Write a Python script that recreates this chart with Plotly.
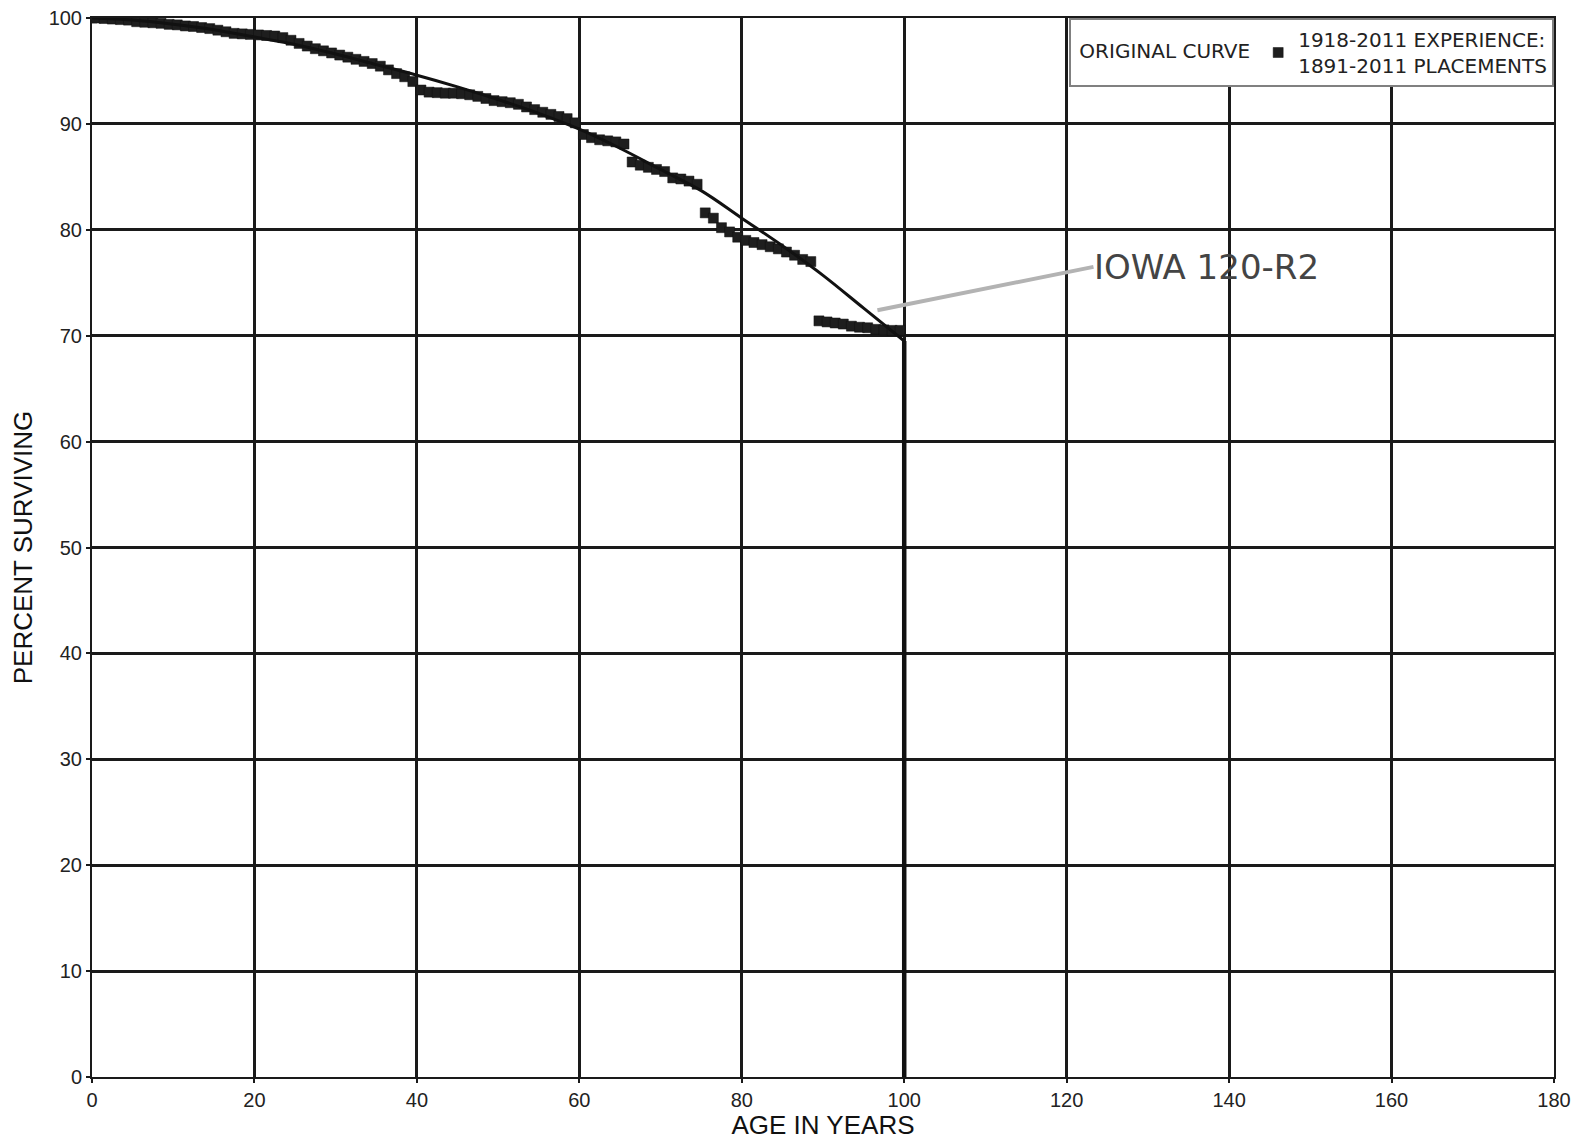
import plotly.graph_objects as go

# Observed experience (1918-2011 experience, 1891-2011 placements)
obs_age = [0, 0.5, 1.5, 2.5, 3.5, 4.5, 5.5, 6.5, 7.5, 8.5, 9.5, 10.5, 11.5, 12.5, 13.5, 14.5,
           15.5, 16.5, 17.5, 18.5, 19.5, 20.5, 21.5, 22.5, 23.5, 24.5, 25.5, 26.5, 27.5, 28.5,
           29.5, 30.5, 31.5, 32.5, 33.5, 34.5, 35.5, 36.5, 37.5, 38.5, 39.5, 40.5, 41.5, 42.5,
           43.5, 44.5, 45.5, 46.5, 47.5, 48.5, 49.5, 50.5, 51.5, 52.5, 53.5, 54.5, 55.5, 56.5,
           57.5, 58.5, 59.5, 60.5, 61.5, 62.5, 63.5, 64.5, 65.5, 66.5, 67.5, 68.5, 69.5, 70.5,
           71.5, 72.5, 73.5, 74.5, 75.5, 76.5, 77.5, 78.5, 79.5, 80.5, 81.5, 82.5, 83.5, 84.5,
           85.5, 86.5, 87.5, 88.5, 89.5, 90.5, 91.5, 92.5, 93.5, 94.5, 95.5, 96.5, 97.5, 98.5, 99.5]
obs_pct = [100, 100, 99.95, 99.9, 99.85, 99.8, 99.65, 99.6, 99.55, 99.5, 99.4, 99.35, 99.25, 99.2,
           99.1, 99.0, 98.85, 98.7, 98.55, 98.5, 98.45, 98.4, 98.35, 98.3, 98.15, 97.9, 97.6, 97.35,
           97.1, 96.9, 96.7, 96.5, 96.3, 96.1, 95.9, 95.7, 95.45, 95.1, 94.75, 94.45, 94.0, 93.2,
           93.0, 92.95, 92.9, 92.9, 92.85, 92.75, 92.6, 92.4, 92.2, 92.1, 92.0, 91.85, 91.6, 91.35,
           91.1, 90.9, 90.7, 90.5, 90.1, 89.0, 88.7, 88.5, 88.4, 88.3, 88.1, 86.4, 86.1, 85.9, 85.7,
           85.5, 84.9, 84.8, 84.6, 84.3, 81.6, 81.1, 80.2, 79.8, 79.3, 79.0, 78.8, 78.6, 78.4, 78.2,
           77.9, 77.6, 77.2, 77.0, 71.4, 71.3, 71.2, 71.1, 70.9, 70.8, 70.75, 70.6, 70.55, 70.5, 70.5]

# Original (Iowa 120-R2) curve, truncated at age 100
curve_age = [0, 5, 10, 15, 20, 25, 30, 35, 40, 45, 50, 55, 60, 65, 70, 75, 80, 85, 90, 95, 100]
curve_pct = [100, 99.8, 99.4, 98.9, 98.2, 97.5, 96.6, 95.6, 94.6, 93.5, 92.3, 91.0, 89.5, 87.7,
             85.7, 83.7, 81.1, 78.5, 75.7, 72.6, 69.5]
trunc_age = [100, 100]
trunc_pct = [69.5, 0]

x_ticks = [0, 20, 40, 60, 80, 100, 120, 140, 160, 180]
y_ticks = [0, 10, 20, 30, 40, 50, 60, 70, 80, 90, 100]

label_text = "IOWA 120-R2"
label_point = (96.7, 72.4)
label_tail = (123.3, 76.5)

fig = go.Figure()

fig.add_trace(go.Scatter(
    x=obs_age, y=obs_pct, mode="markers",
    name="1918-2011 EXPERIENCE:<br>1891-2011 PLACEMENTS",
    marker=dict(symbol="square", size=10, color="#1e1e1e",
                line=dict(color="#111111", width=0.5)),
))

fig.add_trace(go.Scatter(
    x=curve_age, y=curve_pct, mode="lines",
    line=dict(color="#111111", width=3, shape="spline"),
    showlegend=False, hoverinfo="skip",
))
fig.add_trace(go.Scatter(
    x=trunc_age, y=trunc_pct, mode="lines", line=dict(color="#111111", width=4.5),
    showlegend=False, hoverinfo="skip",
))

fig.add_annotation(
    x=label_point[0], y=label_point[1], ax=label_tail[0], ay=label_tail[1],
    axref="x", ayref="y", xref="x", yref="y",
    text=label_text, showarrow=True, arrowhead=0, arrowwidth=4, arrowcolor="#b3b3b3",
    xanchor="left", yanchor="middle", borderpad=0,
    font=dict(family="DejaVu Sans", size=34, color="#444444"),
)

axis_common = dict(
    showgrid=True, gridcolor="#1a1a1a", gridwidth=2.5,
    showline=True, linecolor="#1a1a1a", linewidth=2, mirror=True,
    zeroline=False, ticks="outside", ticklen=4, tickcolor="#1a1a1a", tickwidth=1.5,
    tickfont=dict(family="Liberation Sans", size=20, color="#222222"),
    automargin=False, ticklabeloverflow="allow",
)

fig.update_xaxes(range=[0, 180], tickvals=x_ticks,
                 title=dict(text="AGE IN YEARS", standoff=3,
                            font=dict(family="Liberation Sans", size=26, color="#111111")),
                 **axis_common)
fig.update_yaxes(range=[0, 100], tickvals=y_ticks,
                 title=dict(text="PERCENT SURVIVING", standoff=22,
                            font=dict(family="Liberation Sans", size=26, color="#111111")),
                 **axis_common)

fig.update_layout(
    width=1577, height=1132,
    margin=dict(l=84, r=31, t=10, b=63),
    plot_bgcolor="white", paper_bgcolor="white",
    showlegend=True,
    legend=dict(
        x=1.0, y=1.0, xanchor="right", yanchor="top",
        orientation="h",
        title=dict(text="<span style='baseline-shift:-12px'>\u00a0ORIGINAL CURVE</span>",
                   side="left",
                   font=dict(family="DejaVu Sans", size=20, color="#222222")),
        font=dict(family="DejaVu Sans", size=20, color="#222222"),
        bgcolor="white", bordercolor="#808080", borderwidth=2,
        itemwidth=30,
    ),
)

fig.write_html("out.html")
